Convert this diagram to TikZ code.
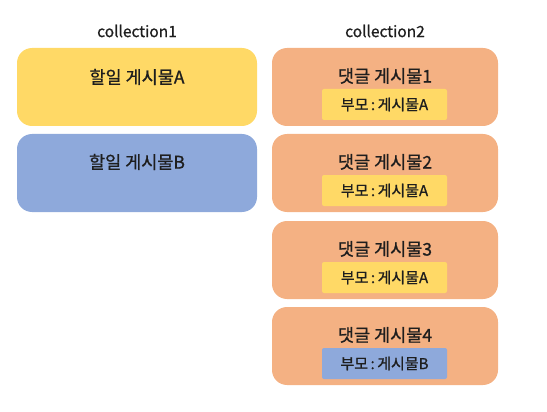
\documentclass[tikz,border=0pt]{standalone}
\usepackage{fontspec}
\setmainfont{Noto Sans CJK KR}[FakeBold=0.9]
\definecolor{cyellow}{HTML}{FFD966}
\definecolor{cblue}{HTML}{8EA9DB}
\definecolor{corange}{HTML}{F4B183}
\definecolor{ctext}{HTML}{1E1E1E}
\begin{document}
\begin{tikzpicture}[x=1pt,y=-1pt,
  bigbox/.style={rounded corners=15pt, draw=none},
  tagbox/.style={rounded corners=2pt, draw=none},
  head/.style={font=\fontsize{15.5}{17}\selectfont, text=ctext, inner sep=0pt},
  title/.style={font=\fontsize{17.5}{19}\selectfont, text=ctext, inner sep=0pt},
  tag/.style={font=\fontsize{15}{17}\selectfont, text=ctext, inner sep=0pt}]
\useasboundingbox (0,0) rectangle (547,412);
% column headings
\node[head] (h1) at (137,31) {collection1};
\node[head] (h2) at (385,31) {collection2};
% collection1
\fill[cyellow, bigbox] (17,48) rectangle (257,126);
\node[title] (a) at (137,77) {할일 게시물A};
\fill[cblue, bigbox] (17,134) rectangle (257,212);
\node[title] (b) at (137,162) {할일 게시물B};
% collection2
\foreach \i/\yt/\tc/\tl in {1/48/cyellow/A, 2/134/cyellow/A, 3/221/cyellow/A, 4/307/cblue/B}{
  \fill[corange, bigbox] (272,\yt) rectangle (498,\yt+78);
  \node[title] (c\i) at (385,\yt+28) {댓글 게시물\i};
  \fill[\tc, tagbox] (322,\yt+41) rectangle (447,\yt+72);
  \node[tag] (t\i) at (384.5,\yt+56.5) {부모\,:\,게시물\tl};
}
\end{tikzpicture}
\end{document}
